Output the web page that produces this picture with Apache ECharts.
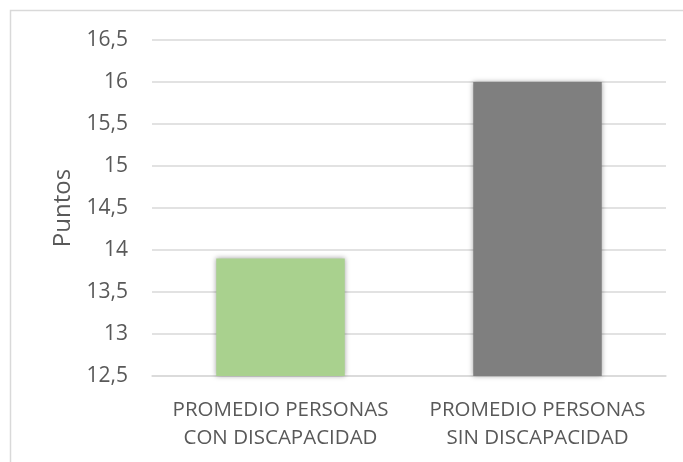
<!DOCTYPE html>
<html>
<head>
<meta charset="utf-8">
<script src="https://cdn.jsdelivr.net/npm/echarts@6/dist/echarts.min.js"></script>
<style>
  html, body { margin: 0; padding: 0; background: #fff; }
  #chart { width: 683px; height: 462px; }
</style>
</head>
<body>
<div id="chart"></div>
<script>
// Average scores by group
const categories = ['PROMEDIO PERSONAS\nCON DISCAPACIDAD', 'PROMEDIO PERSONAS\nSIN DISCAPACIDAD'];
const values = [13.9, 16.0];
const barColors = ['#A9D18E', '#7F7F7F'];
const axisTitle = 'Puntos';

const chart = echarts.init(document.getElementById('chart'), null, { renderer: 'canvas' });
const fontFamily = '"Open Sans", "Liberation Sans", sans-serif';

chart.setOption({
  animation: false,
  backgroundColor: '#fff',
  graphic: [{
    type: 'rect',
    shape: { x: 10.5, y: 10.5, width: 720, height: 520 },
    style: { fill: 'none', stroke: '#D9D9D9', lineWidth: 1.5 },
    silent: true
  }],
  grid: { left: 152, right: 17, top: 40, bottom: 86 },
  xAxis: {
    type: 'category',
    data: categories,
    axisLine: { lineStyle: { color: '#D9D9D9', width: 1.5 } },
    axisTick: { show: false },
    axisLabel: {
      interval: 0, hideOverlap: false,
      color: '#595959', fontFamily, fontSize: 20.5, lineHeight: 28, margin: 20
    }
  },
  yAxis: {
    type: 'value',
    min: 12.5, max: 16.5, interval: 0.5,
    name: axisTitle,
    nameLocation: 'middle',
    nameGap: 76,
    nameTextStyle: { color: '#595959', fontFamily, fontSize: 24 },
    axisLine: { show: false },
    axisTick: { show: false },
    splitLine: { lineStyle: { color: '#D9D9D9', width: 1.5 } },
    axisLabel: {
      color: '#595959', fontFamily, fontSize: 21, margin: 24,
      formatter: v => String(v).replace('.', ',')
    }
  },
  series: [{
    type: 'bar',
    barWidth: '50%',
    data: values.map((v, i) => ({
      value: v,
      itemStyle: {
        color: barColors[i],
        shadowBlur: 5,
        shadowColor: 'rgba(0,0,0,0.35)',
        shadowOffsetX: 0,
        shadowOffsetY: 0
      }
    }))
  }]
});
</script>
</body>
</html>
